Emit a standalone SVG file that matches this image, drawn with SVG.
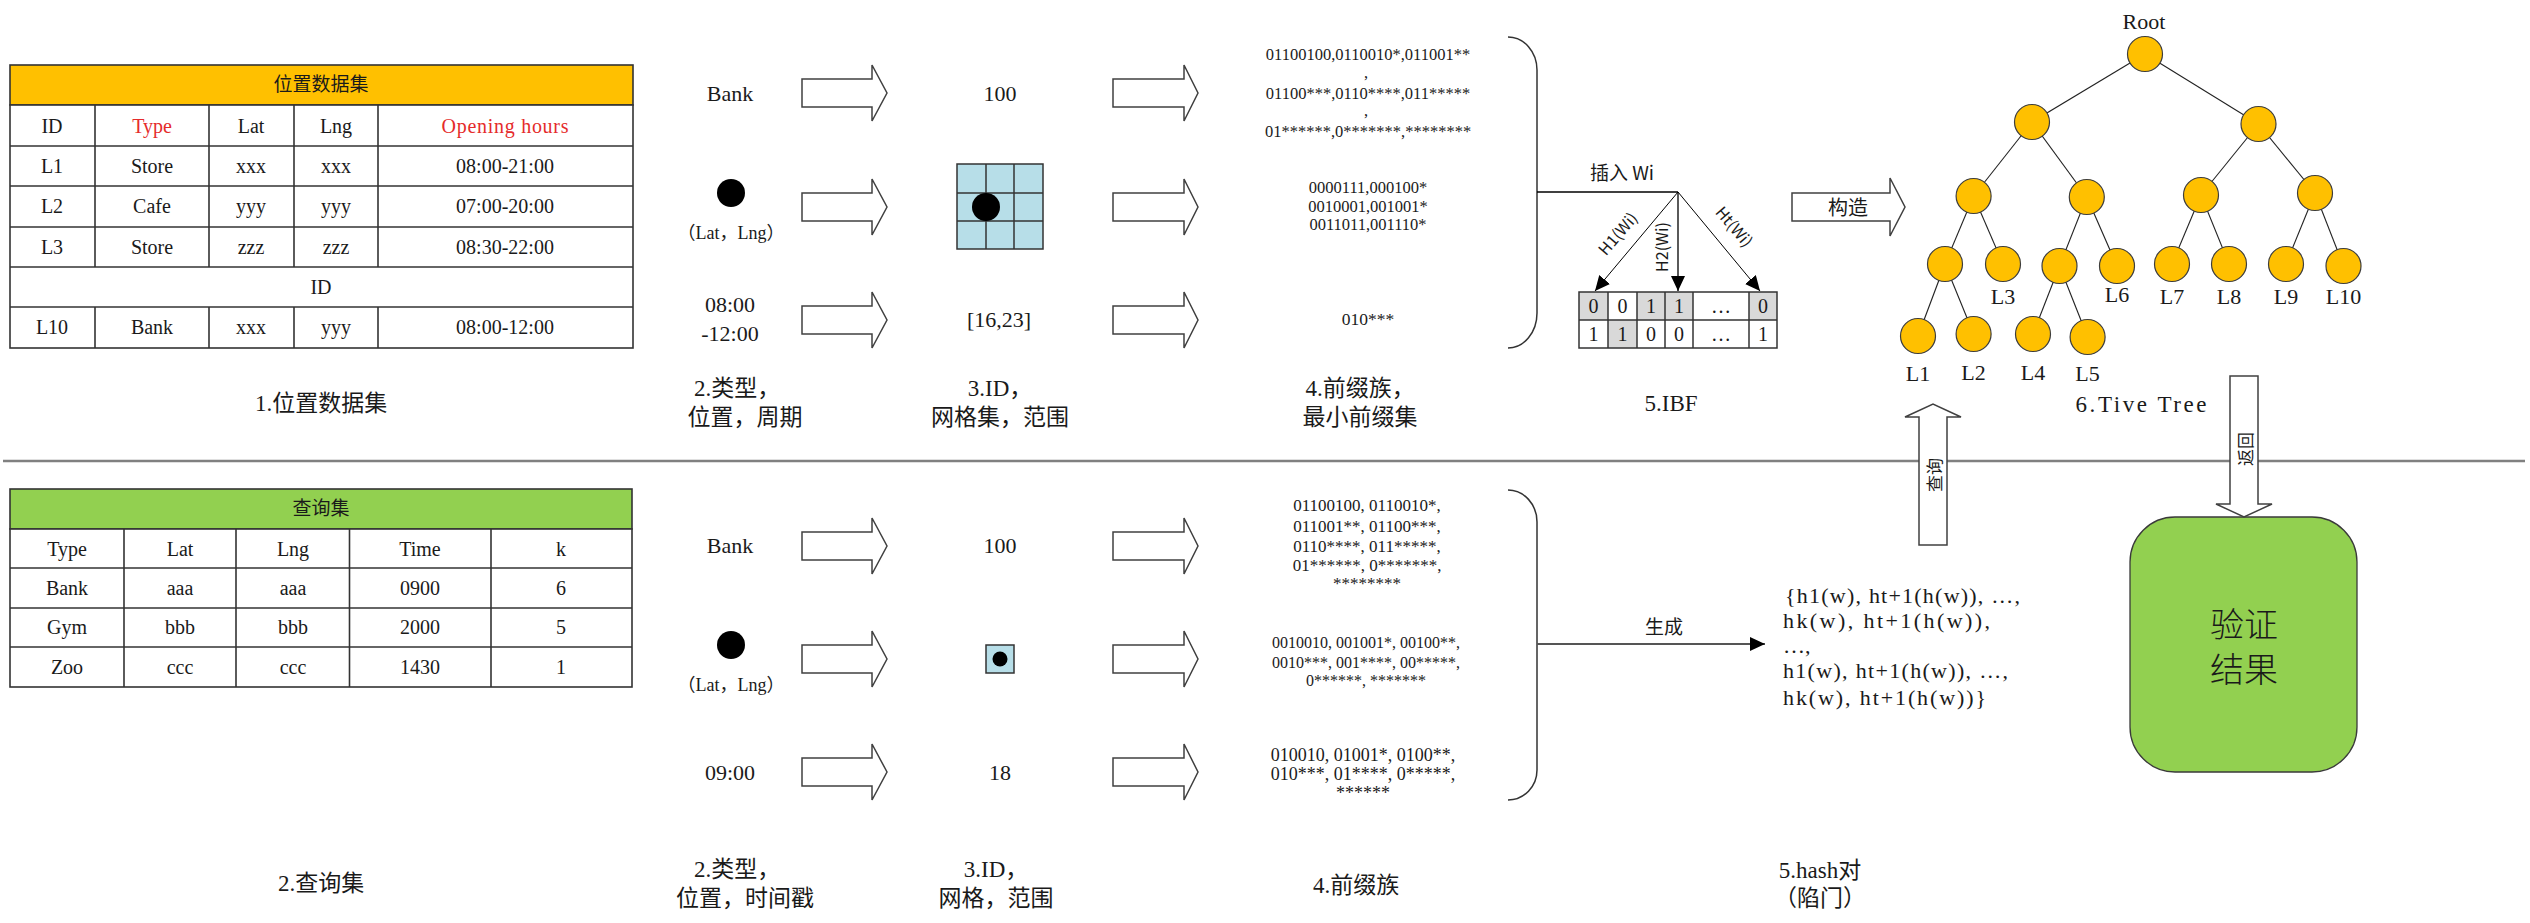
<svg xmlns="http://www.w3.org/2000/svg" width="2530" height="923" viewBox="0 0 2530 923">
<defs>
<style>
.t{font-family:"Liberation Serif","Noto Sans CJK SC",serif;text-anchor:middle;dominant-baseline:central;fill:#1a1a1a}
.s{font-family:"Noto Sans CJK SC","Liberation Sans",sans-serif;text-anchor:middle;dominant-baseline:central;fill:#1a1a1a}
.cell{fill:#fff;stroke:#333;stroke-width:1.6}
.fat{fill:#fff;stroke:#404040;stroke-width:1.5}
.node{fill:#FFC000;stroke:#3d3d3d;stroke-width:1.2}
.edge{stroke:#222;stroke-width:1.1;fill:none}
.red{fill:#E52B2B}
.f19{font-size:19px}.f20{font-size:20px}.f22{font-size:22px}.f23{font-size:23px}.f17{font-size:17px}.f16{font-size:16px}
</style>
<marker id="ah" markerUnits="userSpaceOnUse" markerWidth="16" markerHeight="16" viewBox="0 0 16 16" refX="15" refY="8" orient="auto">
<path d="M0,1 L15,8 L0,15 Z" fill="#000"/>
</marker>
<marker id="ah2" markerUnits="userSpaceOnUse" markerWidth="16" markerHeight="16" viewBox="0 0 16 16" refX="15" refY="8" orient="auto">
<path d="M0,1 L15,8 L0,15 Z" fill="#000"/>
</marker>
</defs>
<rect width="2530" height="923" fill="#fff"/>

<!-- separator -->
<line x1="3" y1="461" x2="2525" y2="461" stroke="#808080" stroke-width="2.5"/>

<!-- Top table -->
<g id="location-table">
<rect x="10" y="65" width="623" height="40" fill="#FFC000" stroke="#333" stroke-width="1.6"/>
<text class="t f19" x="321" y="84">位置数据集</text>
<rect class="cell" x="10" y="105" width="623" height="243"/>
<g stroke="#333" stroke-width="1.6">
<line x1="10" y1="146" x2="633" y2="146"/><line x1="10" y1="186" x2="633" y2="186"/>
<line x1="10" y1="227" x2="633" y2="227"/><line x1="10" y1="267" x2="633" y2="267"/>
<line x1="10" y1="307" x2="633" y2="307"/>
<line x1="95" y1="105" x2="95" y2="267"/><line x1="209" y1="105" x2="209" y2="267"/>
<line x1="294" y1="105" x2="294" y2="267"/><line x1="378" y1="105" x2="378" y2="267"/>
<line x1="95" y1="307" x2="95" y2="348"/><line x1="209" y1="307" x2="209" y2="348"/>
<line x1="294" y1="307" x2="294" y2="348"/><line x1="378" y1="307" x2="378" y2="348"/>
</g>
<g class="f20">
<text class="t" x="52" y="126">ID</text><text class="t red" x="152" y="126">Type</text><text class="t" x="251" y="126">Lat</text><text class="t" x="336" y="126">Lng</text><text class="t red" x="505" y="126" textLength="127" lengthAdjust="spacing">Opening hours</text>
<text class="t" x="52" y="166">L1</text><text class="t" x="152" y="166">Store</text><text class="t" x="251" y="166">xxx</text><text class="t" x="336" y="166">xxx</text><text class="t" x="505" y="166">08:00-21:00</text>
<text class="t" x="52" y="206">L2</text><text class="t" x="152" y="206">Cafe</text><text class="t" x="251" y="206">yyy</text><text class="t" x="336" y="206">yyy</text><text class="t" x="505" y="206">07:00-20:00</text>
<text class="t" x="52" y="247">L3</text><text class="t" x="152" y="247">Store</text><text class="t" x="251" y="247">zzz</text><text class="t" x="336" y="247">zzz</text><text class="t" x="505" y="247">08:30-22:00</text>
<text class="t" x="321" y="287">ID</text>
<text class="t" x="52" y="327">L10</text><text class="t" x="152" y="327">Bank</text><text class="t" x="251" y="327">xxx</text><text class="t" x="336" y="327">yyy</text><text class="t" x="505" y="327">08:00-12:00</text>
</g>
</g>
<text class="t f23" x="321" y="403">1.位置数据集</text>

<!-- Bottom table -->
<g id="query-table">
<rect x="10" y="489" width="622" height="40" fill="#92D050" stroke="#333" stroke-width="1.6"/>
<text class="t f19" x="321" y="508">查询集</text>
<rect class="cell" x="10" y="529" width="622" height="158"/>
<g stroke="#333" stroke-width="1.6">
<line x1="10" y1="568" x2="632" y2="568"/><line x1="10" y1="608" x2="632" y2="608"/><line x1="10" y1="647" x2="632" y2="647"/>
<line x1="124" y1="529" x2="124" y2="687"/><line x1="236" y1="529" x2="236" y2="687"/>
<line x1="349.5" y1="529" x2="349.5" y2="687"/><line x1="491" y1="529" x2="491" y2="687"/>
</g>
<g class="f20">
<text class="t" x="67" y="549">Type</text><text class="t" x="180" y="549">Lat</text><text class="t" x="293" y="549">Lng</text><text class="t" x="420" y="549">Time</text><text class="t" x="561" y="549">k</text>
<text class="t" x="67" y="588">Bank</text><text class="t" x="180" y="588">aaa</text><text class="t" x="293" y="588">aaa</text><text class="t" x="420" y="588">0900</text><text class="t" x="561" y="588">6</text>
<text class="t" x="67" y="627">Gym</text><text class="t" x="180" y="627">bbb</text><text class="t" x="293" y="627">bbb</text><text class="t" x="420" y="627">2000</text><text class="t" x="561" y="627">5</text>
<text class="t" x="67" y="667">Zoo</text><text class="t" x="180" y="667">ccc</text><text class="t" x="293" y="667">ccc</text><text class="t" x="420" y="667">1430</text><text class="t" x="561" y="667">1</text>
</g>
</g>
<text class="t f23" x="321" y="883">2.查询集</text>

<!-- Column 2 top -->
<g id="attr-top">
<text class="t f22" x="730" y="93">Bank</text>
<circle cx="731" cy="193" r="14" fill="#000"/>
<text class="t" x="731" y="233" style="font-size:18px">（Lat，Lng）</text>
<text class="t f22" x="730" y="304">08:00</text>
<text class="t f22" x="730" y="333">-12:00</text>
<text class="t f23" x="737" y="388">2.类型，</text>
<text class="t f23" x="745" y="417">位置，周期</text>
</g>
<!-- Column 2 bottom -->
<g id="attr-bottom">
<text class="t f22" x="730" y="545">Bank</text>
<circle cx="731" cy="645" r="14" fill="#000"/>
<text class="t" x="731" y="685" style="font-size:18px">（Lat，Lng）</text>
<text class="t f22" x="730" y="772">09:00</text>
<text class="t f23" x="737" y="869">2.类型，</text>
<text class="t f23" x="745" y="898">位置，时间戳</text>
</g>

<!-- Column 3 top -->
<g id="id-top">
<text class="t f22" x="1000" y="93">100</text>
<rect x="957" y="164" width="86" height="85" fill="#B7DEE8" stroke="#333" stroke-width="1.5"/>
<g stroke="#333" stroke-width="1.5">
<line x1="986" y1="164" x2="986" y2="249"/><line x1="1014" y1="164" x2="1014" y2="249"/>
<line x1="957" y1="193" x2="1043" y2="193"/><line x1="957" y1="221" x2="1043" y2="221"/>
</g>
<circle cx="986" cy="207" r="14" fill="#000"/>
<text class="t f22" x="999" y="319">[16,23]</text>
<text class="t f23" x="1000" y="388">3.ID，</text>
<text class="t f23" x="1000" y="417">网格集，范围</text>
</g>
<!-- Column 3 bottom -->
<g id="id-bottom">
<text class="t f22" x="1000" y="545">100</text>
<rect x="986" y="645" width="28" height="28" fill="#B7DEE8" stroke="#333" stroke-width="1.5"/>
<circle cx="1000" cy="659" r="7.5" fill="#000"/>
<text class="t f22" x="1000" y="772">18</text>
<text class="t f23" x="996" y="869">3.ID，</text>
<text class="t f23" x="996" y="898">网格，范围</text>
</g>

<!-- Column 4 top -->
<g id="prefix-top">
<g class="t" style="font-size:16.5px">
<text x="1368" y="54">01100100,0110010*,011001**</text>
<text x="1366" y="72">,</text>
<text x="1368" y="93">01100***,0110****,011*****</text>
<text x="1366" y="110">,</text>
<text x="1368" y="131">01******,0*******,********</text>
<text x="1368" y="187">0000111,000100*</text>
<text x="1368" y="206">0010001,001001*</text>
<text x="1368" y="224">0011011,001110*</text>
<text x="1368" y="319" style="font-size:17.5px">010***</text>
</g>
<text class="t f23" x="1360" y="388">4.前缀族，</text>
<text class="t f23" x="1360" y="417">最小前缀集</text>
</g>
<!-- Column 4 bottom -->
<g id="prefix-bottom">
<g class="t">
<text x="1367" y="505" style="font-size:17px">01100100, 0110010*,</text>
<text x="1367" y="526" style="font-size:17px">011001**, 01100***,</text>
<text x="1367" y="546" style="font-size:17px">0110****, 011*****,</text>
<text x="1367" y="565" style="font-size:17px">01******, 0*******,</text>
<text x="1367" y="583" style="font-size:17px">********</text>
<text x="1366" y="642" style="font-size:16px">0010010, 001001*, 00100**,</text>
<text x="1366" y="662" style="font-size:16px">0010***, 001****, 00*****,</text>
<text x="1366" y="680" style="font-size:16px">0******, *******</text>
<text x="1363" y="755" style="font-size:18px">010010, 01001*, 0100**,</text>
<text x="1363" y="774" style="font-size:18px">010***, 01****, 0*****,</text>
<text x="1363" y="793" style="font-size:18px">******</text>
</g>
<text class="t f23" x="1356" y="885">4.前缀族</text>
</g>

<!-- IBF -->
<g id="ibf">
<text class="s f19" x="1622" y="171">插入 Wi</text>
<rect x="1579" y="292" width="198" height="56" fill="#fff"/>
<g fill="#D9D9D9">
<rect x="1579" y="292" width="29" height="28"/><rect x="1637" y="292" width="28" height="28"/>
<rect x="1665" y="292" width="28" height="28"/><rect x="1749" y="292" width="28" height="28"/>
<rect x="1608" y="320" width="29" height="28"/>
</g>
<g stroke="#333" stroke-width="1.5" fill="none">
<rect x="1579" y="292" width="198" height="56"/>
<line x1="1579" y1="320" x2="1777" y2="320"/>
<line x1="1608" y1="292" x2="1608" y2="348"/><line x1="1637" y1="292" x2="1637" y2="348"/>
<line x1="1665" y1="292" x2="1665" y2="348"/><line x1="1693" y1="292" x2="1693" y2="348"/>
<line x1="1749" y1="292" x2="1749" y2="348"/>
</g>
<g class="t f20">
<text x="1593.5" y="306">0</text><text x="1622.5" y="306">0</text><text x="1651" y="306">1</text><text x="1679" y="306">1</text><text x="1721" y="306">…</text><text x="1763" y="306">0</text>
<text x="1593.5" y="334">1</text><text x="1622.5" y="334">1</text><text x="1651" y="334">0</text><text x="1679" y="334">0</text><text x="1721" y="334">…</text><text x="1763" y="334">1</text>
</g>
<text class="s f16" transform="translate(1617,233) rotate(-49.4)">H1(Wi)</text>
<text class="s f16" transform="translate(1661,247) rotate(-90)">H2(Wi)</text>
<text class="s f16" transform="translate(1735,226) rotate(49.4)">Ht(Wi)</text>
<text class="t f23" x="1671" y="403">5.IBF</text>
</g>

<!-- hash pairs -->
<g id="hash">
<g style="font-family:'Liberation Serif','Noto Sans CJK SC',serif;font-size:22px;fill:#1a1a1a;dominant-baseline:central">
<text x="1785" y="595" textLength="235" lengthAdjust="spacing">{h1(w), ht+1(h(w)), …,</text>
<text x="1783" y="620" textLength="207" lengthAdjust="spacing">hk(w),  ht+1(h(w)),</text>
<text x="1783" y="645">…,</text>
<text x="1783" y="670" textLength="225" lengthAdjust="spacing">h1(w), ht+1(h(w)), …,</text>
<text x="1783" y="697" textLength="203" lengthAdjust="spacing">hk(w),  ht+1(h(w))}</text>
</g>
<text class="t f23" x="1820" y="870">5.hash对</text>
<text class="t f23" x="1820" y="898">（陷门）</text>
</g>

<!-- Tree -->
<g id="tree-edges">
<g class="edge">
<line x1="2145" y1="54" x2="2032" y2="122"/><line x1="2145" y1="54" x2="2258.5" y2="124"/>
<line x1="2032" y1="122" x2="1973.6" y2="196"/><line x1="2032" y1="122" x2="2086.8" y2="197"/>
<line x1="2258.5" y1="124" x2="2201" y2="195"/><line x1="2258.5" y1="124" x2="2315" y2="193"/>
<line x1="1973.6" y1="196" x2="1945" y2="264"/><line x1="1973.6" y1="196" x2="2003" y2="264"/>
<line x1="2086.8" y1="197" x2="2059.5" y2="266"/><line x1="2086.8" y1="197" x2="2117" y2="266"/>
<line x1="2201" y1="195" x2="2172" y2="264"/><line x1="2201" y1="195" x2="2229" y2="264"/>
<line x1="2315" y1="193" x2="2286" y2="264"/><line x1="2315" y1="193" x2="2343.5" y2="266"/>
<line x1="1945" y1="264" x2="1918" y2="336"/><line x1="1945" y1="264" x2="1973.6" y2="334"/>
<line x1="2059.5" y1="266" x2="2033" y2="334"/><line x1="2059.5" y1="266" x2="2087.6" y2="337"/>
</g>
</g>
<g id="tree-nodes">
<g id="n-root"><circle class="node" cx="2145" cy="54" r="17.5"/><text class="t f22" x="2144" y="21">Root</text></g>
<g id="n-a"><circle class="node" cx="2032" cy="122" r="17.5"/></g>
<g id="n-b"><circle class="node" cx="2258.5" cy="124" r="17.5"/></g>
<g id="n-c"><circle class="node" cx="1973.6" cy="196" r="17.5"/></g>
<g id="n-d"><circle class="node" cx="2086.8" cy="197" r="17.5"/></g>
<g id="n-e"><circle class="node" cx="2201" cy="195" r="17.5"/></g>
<g id="n-f"><circle class="node" cx="2315" cy="193" r="17.5"/></g>
<g id="n-g"><circle class="node" cx="1945" cy="264" r="17.5"/></g>
<g id="n-L3"><circle class="node" cx="2003" cy="264" r="17.5"/><text class="t f22" x="2003" y="296">L3</text></g>
<g id="n-h"><circle class="node" cx="2059.5" cy="266" r="17.5"/></g>
<g id="n-L6"><circle class="node" cx="2117" cy="266" r="17.5"/><text class="t f22" x="2117" y="294">L6</text></g>
<g id="n-L7"><circle class="node" cx="2172" cy="264" r="17.5"/><text class="t f22" x="2172" y="296">L7</text></g>
<g id="n-L8"><circle class="node" cx="2229" cy="264" r="17.5"/><text class="t f22" x="2229" y="296">L8</text></g>
<g id="n-L9"><circle class="node" cx="2286" cy="264" r="17.5"/><text class="t f22" x="2286" y="296">L9</text></g>
<g id="n-L10"><circle class="node" cx="2343.5" cy="266" r="17.5"/><text class="t f22" x="2343.5" y="296">L10</text></g>
<g id="n-L1"><circle class="node" cx="1918" cy="336" r="17.5"/><text class="t f22" x="1918" y="373">L1</text></g>
<g id="n-L2"><circle class="node" cx="1973.6" cy="334" r="17.5"/><text class="t f22" x="1973.6" y="372">L2</text></g>
<g id="n-L4"><circle class="node" cx="2033" cy="334" r="17.5"/><text class="t f22" x="2033" y="372">L4</text></g>
<g id="n-L5"><circle class="node" cx="2087.6" cy="337" r="17.5"/><text class="t f22" x="2087.6" y="373">L5</text></g>
</g>
<text class="t f23" x="2141" y="404" textLength="131" lengthAdjust="spacing">6.Tive Tree</text>

<!-- verify box -->
<g id="verify">
<rect x="2130" y="517" width="227" height="255" rx="45" ry="45" fill="#92D050" stroke="#3a3a3a" stroke-width="1.3"/>
<text class="s" x="2244" y="622" style="font-size:34px;font-weight:300">验证</text>
<text class="s" x="2244" y="667" style="font-size:34px;font-weight:300">结果</text>
</g>

<!-- connectors -->
<g id="connectors">
<g class="fat">
<polygon points="802,79 872,79 872,65 887,93 872,121 872,107 802,107"/>
<polygon points="802,193 872,193 872,179 887,207 872,235 872,221 802,221"/>
<polygon points="802,306 872,306 872,292 887,320 872,348 872,334 802,334"/>
<polygon points="1113,79 1184,79 1184,65 1198,93 1184,121 1184,107 1113,107"/>
<polygon points="1113,193 1184,193 1184,179 1198,207 1184,235 1184,221 1113,221"/>
<polygon points="1113,306 1184,306 1184,292 1198,320 1184,348 1184,334 1113,334"/>
<polygon points="802,532 872,532 872,518 887,546 872,574 872,560 802,560"/>
<polygon points="802,645 872,645 872,631 887,659 872,687 872,673 802,673"/>
<polygon points="802,758 872,758 872,744 887,772 872,800 872,786 802,786"/>
<polygon points="1113,532 1184,532 1184,518 1198,546 1184,574 1184,560 1113,560"/>
<polygon points="1113,645 1184,645 1184,631 1198,659 1184,687 1184,673 1113,673"/>
<polygon points="1113,758 1184,758 1184,744 1198,772 1184,800 1184,786 1113,786"/>
<polygon points="1792,193 1890,193 1890,178 1905,207 1890,236 1890,221 1792,221"/>
<polygon points="1919,545 1919,417 1905,417 1933,404 1961,417 1947,417 1947,545"/>
<polygon points="2230,376 2258,376 2258,504 2272,504 2244,517 2216,504 2230,504"/>
</g>
<text class="s f20" x="1848" y="206">构造</text>
<text class="s f17" transform="translate(1933,475) rotate(-90)">查询</text>
<text class="s f17" transform="translate(2244,449) rotate(-90)">返回</text>
<path d="M1508,37 A29,33 0 0 1 1537,70 L1537,313 A29,35 0 0 1 1508,348" fill="none" stroke="#333" stroke-width="1.5"/>
<path d="M1508,490 A29,32 0 0 1 1537,522 L1537,770 A29,30 0 0 1 1508,800" fill="none" stroke="#333" stroke-width="1.5"/>
<line x1="1537" y1="192" x2="1678" y2="192" stroke="#000" stroke-width="1.4"/>
<line x1="1678" y1="192" x2="1595" y2="291" stroke="#000" stroke-width="1" marker-end="url(#ah)"/>
<line x1="1678" y1="192" x2="1678" y2="291" stroke="#000" stroke-width="1.3" marker-end="url(#ah)"/>
<line x1="1678" y1="192" x2="1760" y2="291" stroke="#000" stroke-width="1" marker-end="url(#ah)"/>
<line x1="1537" y1="644" x2="1765" y2="644" stroke="#555" stroke-width="2" marker-end="url(#ah2)"/>
<text class="s f19" x="1664" y="625">生成</text>
</g>
</svg>
